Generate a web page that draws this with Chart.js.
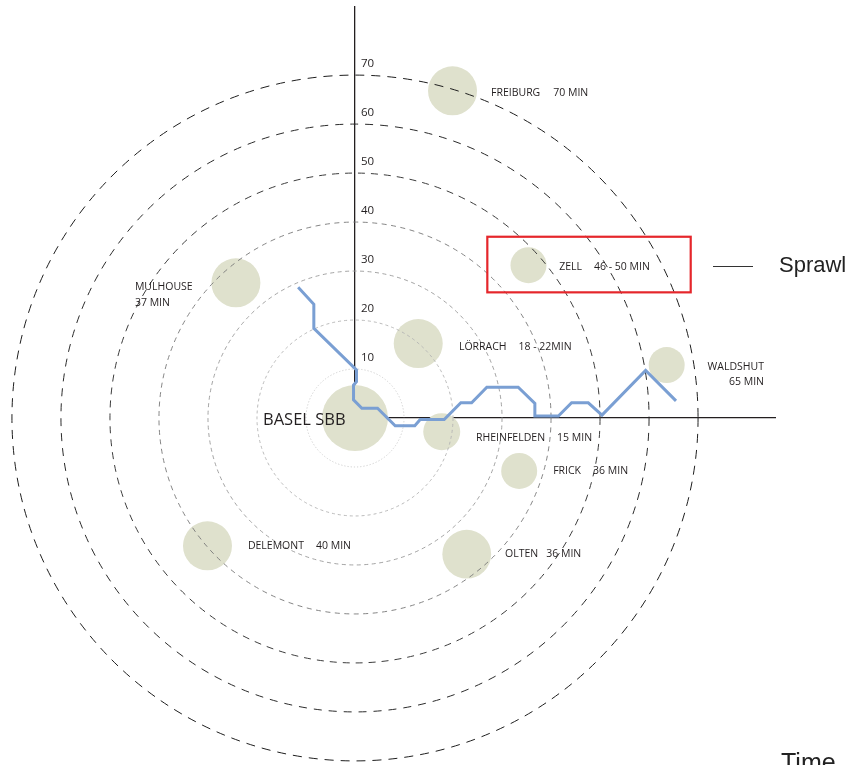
<!DOCTYPE html>
<html><head><meta charset="utf-8">
<script src="https://cdn.jsdelivr.net/npm/chart.js@4.4.0/dist/chart.umd.min.js"></script>
<style>html,body{margin:0;padding:0;background:#fff;}canvas{display:block;}</style>
</head><body>
<canvas id="c" width="846" height="765"></canvas>
<script>
// ---- data ----
const places      = ['BASEL SBB','FREIBURG','ZELL','MULHOUSE','LÖRRACH','RHEINFELDEN','FRICK','WALDSHUT','DELEMONT','OLTEN'];
const travelTimes = ['', '70 MIN', '46 - 50 MIN', '37 MIN', '18 - 22MIN', '15 MIN', '36 MIN', '65 MIN', '40 MIN', '36 MIN'];
const placeX      = [0, 19.9, 35.4, -24.3, 12.9, 17.7, 33.5, 63.6, -30.1, 22.8];
const placeY      = [0, 66.8, 31.2, 27.6, 15.2, -2.8, -10.8, 10.8, -26.1, -27.8];
const placeSize   = [33, 24.5, 18, 24.5, 24.5, 18.5, 18, 18, 24.5, 24.4];
const sprawlX = [-11.6, -8.4, -8.4, 0.3, 0.3, -0.3, -0.3, 1.4, 4.6, 8.2, 12.2, 13.3, 18.2, 21.6, 23.8, 26.9, 33.3, 36.7, 36.7, 41.5, 44.2, 47.6, 50.4, 59.3, 65.5];
const sprawlY = [26.7, 23.2, 18.3, 9.8, 7.4, 6.7, 3.7, 2.0, 2.0, -1.6, -1.6, -0.3, -0.3, 3.1, 3.1, 6.3, 6.3, 3.0, 0.4, 0.4, 3.1, 3.1, 0.6, 9.7, 3.5];
const ringValues = [10, 20, 30, 40, 50, 60, 70];
const yTickValues = [10, 20, 30, 40, 50, 60, 70];
const highlightX = [27.0, 68.5];   // ZELL highlight (data units)
const highlightY = [25.65, 37.0];
const xRange = [0, 85.7];
const yRange = [0, 83.9];

// ---- styles ----
const ringStyles = [
  {color:'#c9c9c9', width:0.9, dash:[1.2,2]},
  {color:'#b3b3b3', width:0.9, dash:[3,3]},
  {color:'#9a9a9a', width:0.9, dash:[4,3.5]},
  {color:'#777777', width:0.9, dash:[5,4.5]},
  {color:'#3c3c3c', width:1, dash:[7,6]},
  {color:'#2a2a2a', width:1, dash:[8,7]},
  {color:'#1e1e1e', width:1, dash:[9,7]}
];
// label offsets (pixels from bubble centre), alignment, two-line flag, gap
const labelLayout = [
  {dx:-92, dy:2, align:'left', two:false, gap:0, big:true},
  {dx:38.5, dy:1.8, align:'left', two:false, gap:13},
  {dx:30.7, dy:1.7, align:'left', two:false, gap:12},
  {dx:-101, dy:4, align:'left', two:true, gap:16},
  {dx:40.7, dy:3.4, align:'left', two:false, gap:12},
  {dx:34.3, dy:6.3, align:'left', two:false, gap:12},
  {dx:34, dy:0.5, align:'left', two:false, gap:12},
  {dx:97.3, dy:2.3, align:'right', two:true, gap:15},
  {dx:40.4, dy:-0.3, align:'left', two:false, gap:12},
  {dx:38.3, dy:0.3, align:'left', two:false, gap:8}
];
const TXT = '#231f20';
const LABEL_FONT = '10.5px "Open Sans"';

const ringsPlugin = {
  id: 'rings',
  beforeDatasetDraw(chart, args) {
    if (args.index !== 0) return;
    // let bubbles outside the positive quadrant be drawn
    chart._savedArea = chart.chartArea;
    chart.chartArea = Object.assign({}, chart.chartArea, {left: -1e4, top: -1e4, right: 1e4, bottom: 1e4});
  },
  afterDatasetDraw(chart, args) {
    if (args.index !== 0) return;
    if (chart._savedArea) { chart.chartArea = chart._savedArea; chart._savedArea = null; }
    const {ctx, scales: {x, y}} = chart;
    const cx = x.getPixelForValue(0), cy = y.getPixelForValue(0);
    ringValues.forEach((v, i) => {
      const rx = x.getPixelForValue(v) - cx;
      const ry = cy - y.getPixelForValue(v);
      const st = ringStyles[i];
      ctx.save();
      ctx.strokeStyle = st.color; ctx.lineWidth = st.width; ctx.setLineDash(st.dash);
      ctx.beginPath(); ctx.ellipse(cx, cy, rx, ry, 0, 0, Math.PI * 2); ctx.stroke();
      ctx.restore();
    });
  }
};

const labelsPlugin = {
  id: 'labels',
  afterDraw(chart) {
    const {ctx, scales: {x, y}} = chart;
    ctx.save();
    ctx.textBaseline = 'middle';
    ctx.fillStyle = TXT;
    places.forEach((name, i) => {
      const L = labelLayout[i];
      const px = x.getPixelForValue(placeX[i]) + L.dx;
      const py = y.getPixelForValue(placeY[i]) + L.dy;
      if (L.big) {
        ctx.font = '16.5px "Open Sans"';
        ctx.textAlign = 'left';
        ctx.fillText(name, px, py);
        return;
      }
      ctx.font = LABEL_FONT;
      ctx.textAlign = L.align;
      if (L.two) {
        ctx.fillText(name, px, py);
        ctx.fillText(travelTimes[i], px, py + L.gap);
      } else {
        ctx.fillText(name, px, py);
        const w = ctx.measureText(name).width;
        ctx.fillText(travelTimes[i], px + w + L.gap, py);
      }
    });
    // highlight box
    const bx1 = x.getPixelForValue(highlightX[0]), bx2 = x.getPixelForValue(highlightX[1]);
    const by1 = y.getPixelForValue(highlightY[1]), by2 = y.getPixelForValue(highlightY[0]);
    ctx.strokeStyle = '#e5262b'; ctx.lineWidth = 2.2;
    ctx.strokeRect(bx1, by1, bx2 - bx1, by2 - by1);
    // legend
    ctx.strokeStyle = '#333'; ctx.lineWidth = 1;
    ctx.beginPath(); ctx.moveTo(713, 266.5); ctx.lineTo(753, 266.5); ctx.stroke();
    ctx.font = '22px "Liberation Sans"';
    ctx.textAlign = 'left'; ctx.textBaseline = 'alphabetic';
    ctx.fillStyle = '#222';
    ctx.fillText('Sprawl', 779, 272);
    ctx.font = '25px "Liberation Sans"';
    ctx.fillText('Time', 781, 771);
    ctx.restore();
  }
};

new Chart(document.getElementById('c'), {
  type: 'bubble',
  data: {
    datasets: [
      {
        type: 'bubble', label: 'Places',
        data: places.map((p, i) => ({x: placeX[i], y: placeY[i], r: placeSize[i]})),
        backgroundColor: '#dfe1cd', borderWidth: 0, clip: false, order: 1
      },
      {
        type: 'line', label: 'Sprawl',
        data: sprawlX.map((v, i) => ({x: v, y: sprawlY[i]})),
        borderColor: '#7a9fd3', borderWidth: 3, pointRadius: 0, fill: false,
        tension: 0, clip: false, order: 0, borderJoinStyle: 'miter'
      }
    ]
  },
  options: {
    responsive: false, animation: false,
    layout: {autoPadding: false, padding: {left: 355, top: 7, right: 71, bottom: 347}},
    plugins: {legend: {display: false}, tooltip: {enabled: false}},
    scales: {
      x: {
        type: 'linear', min: xRange[0], max: xRange[1], position: 'bottom', z: 1,
        grid: {display: false, drawTicks: false}, ticks: {display: false},
        border: {display: true, color: TXT, width: 1.3},
        afterFit(s) { s.height = 0; s.paddingLeft = 0; s.paddingRight = 0; }
      },
      y: {
        type: 'linear', min: yRange[0], max: yRange[1], position: 'left', z: 1,
        grid: {display: false, drawTicks: false},
        border: {display: true, color: TXT, width: 1.3},
        ticks: {mirror: true, padding: 6, labelOffset: -11, color: TXT, font: {family: 'Open Sans', size: 11.5}},
        afterBuildTicks(s) { s.ticks = yTickValues.map(v => ({value: v})); },
        afterFit(s) { s.width = 0; s.paddingTop = 0; s.paddingBottom = 0; }
      }
    }
  },
  plugins: [ringsPlugin, labelsPlugin]
});
</script>
</body></html>
